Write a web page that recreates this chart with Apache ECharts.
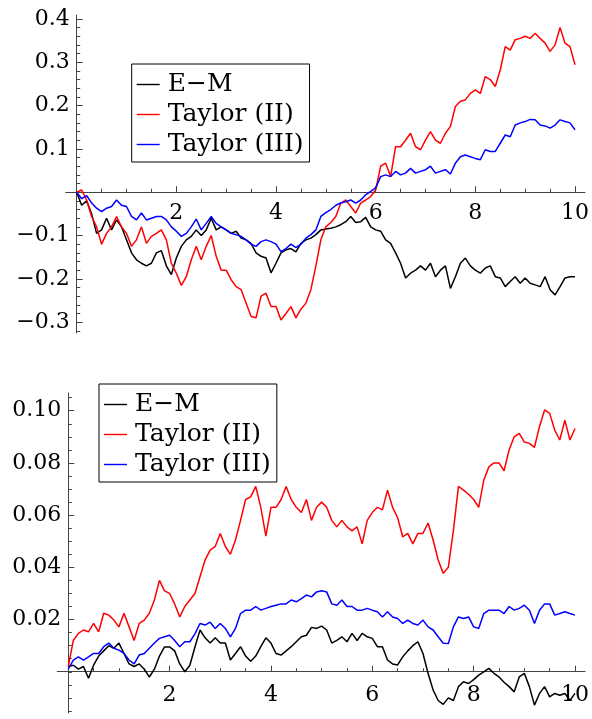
<!DOCTYPE html>
<html>
<head>
<meta charset="utf-8">
<script src="https://cdn.jsdelivr.net/npm/echarts@6/dist/echarts.min.js"></script>
<style>
  html, body { margin: 0; padding: 0; background: #fff; }
  #chart { width: 592px; height: 719px; }
</style>
</head>
<body>
<div id="chart"></div>
<script>
// sample times 0, 0.1, ... 10
var tSteps = [];
for (var i = 0; i <= 100; i++) tSteps.push(i / 10);

var names = ['E\u2212M', 'Taylor (II)', 'Taylor (III)'];
var colors = ['#000000', '#ff0000', '#0000ff'];

// top panel
var emTop = [0,-0.03,-0.02,-0.05,-0.095,-0.087,-0.06,-0.087,-0.064,-0.08,
  -0.11,-0.14,-0.156,-0.164,-0.17,-0.164,-0.14,-0.135,-0.17,-0.19,
  -0.152,-0.125,-0.11,-0.102,-0.087,-0.1,-0.087,-0.06,-0.087,-0.08,
  -0.087,-0.095,-0.09,-0.106,-0.11,-0.118,-0.14,-0.148,-0.152,-0.186,
  -0.164,-0.14,-0.133,-0.13,-0.138,-0.118,-0.11,-0.106,-0.098,-0.087,
  -0.085,-0.083,-0.08,-0.075,-0.068,-0.056,-0.07,-0.068,-0.058,-0.08,
  -0.087,-0.09,-0.11,-0.118,-0.14,-0.164,-0.198,-0.187,-0.18,-0.17,
  -0.18,-0.164,-0.195,-0.18,-0.17,-0.222,-0.195,-0.164,-0.152,-0.17,
  -0.18,-0.187,-0.175,-0.17,-0.195,-0.198,-0.218,-0.206,-0.195,-0.21,
  -0.198,-0.21,-0.214,-0.218,-0.195,-0.225,-0.237,-0.218,-0.198,-0.195,
  -0.195];
var t2Top = [0,0.005,-0.018,-0.056,-0.08,-0.12,-0.095,-0.08,-0.056,-0.08,
  -0.095,-0.125,-0.11,-0.08,-0.118,-0.102,-0.095,-0.087,-0.11,-0.164,
  -0.187,-0.215,-0.195,-0.156,-0.125,-0.156,-0.125,-0.1,-0.148,-0.18,
  -0.18,-0.202,-0.218,-0.225,-0.256,-0.287,-0.29,-0.24,-0.233,-0.264,
  -0.264,-0.295,-0.28,-0.264,-0.29,-0.27,-0.256,-0.225,-0.17,-0.11,
  -0.08,-0.07,-0.056,-0.025,-0.018,-0.033,-0.048,-0.025,-0.018,-0.01,
  0.005,0.06,0.067,0.036,0.105,0.105,0.12,0.136,0.105,0.098,
  0.12,0.14,0.12,0.113,0.136,0.152,0.198,0.21,0.213,0.228,
  0.236,0.228,0.267,0.26,0.244,0.282,0.336,0.328,0.352,0.355,
  0.36,0.355,0.367,0.355,0.344,0.325,0.34,0.38,0.344,0.336,
  0.294];
var t3Top = [0,-0.015,-0.008,-0.025,-0.037,-0.045,-0.037,-0.033,-0.018,-0.03,
  -0.033,-0.056,-0.064,-0.048,-0.064,-0.06,-0.056,-0.056,-0.064,-0.08,
  -0.09,-0.102,-0.095,-0.08,-0.062,-0.087,-0.072,-0.056,-0.072,-0.08,
  -0.087,-0.095,-0.098,-0.102,-0.11,-0.12,-0.125,-0.114,-0.11,-0.114,
  -0.12,-0.137,-0.13,-0.12,-0.128,-0.12,-0.106,-0.098,-0.087,-0.056,
  -0.047,-0.04,-0.03,-0.025,-0.022,-0.018,-0.025,-0.018,-0.006,0.002,
  0.01,0.036,0.04,0.036,0.048,0.04,0.044,0.055,0.044,0.048,
  0.052,0.06,0.044,0.048,0.052,0.042,0.067,0.082,0.086,0.082,
  0.078,0.075,0.098,0.094,0.094,0.113,0.132,0.128,0.155,0.16,
  0.163,0.168,0.167,0.155,0.153,0.148,0.155,0.167,0.163,0.16,
  0.144];

// bottom panel
var emBot = [0.002,0.0025,0.001,0.002,-0.0025,0.0025,0.006,0.008,0.010,0.009,
  0.011,0.007,0.003,0.002,0.003,0.001,-0.002,0.001,0.006,0.0095,
  0.0095,0.008,0.003,0.0,0.0025,0.0095,0.016,0.013,0.011,0.013,
  0.011,0.011,0.0045,0.007,0.0096,0.006,0.004,0.006,0.0096,0.013,
  0.011,0.007,0.0064,0.008,0.0096,0.0115,0.0134,0.014,0.017,0.0166,
  0.0175,0.016,0.011,0.012,0.0134,0.0115,0.0147,0.012,0.0147,0.0134,
  0.0128,0.0096,0.0096,0.0045,0.003,0.0026,0.0057,0.008,0.010,0.0115,
  0.007,-0.0006,-0.007,-0.011,-0.0125,-0.01,-0.011,-0.0057,-0.0038,-0.0045,
  -0.003,-0.0013,0.0,0.0013,-0.0006,-0.002,-0.004,-0.0057,-0.0077,-0.002,
  -0.0006,-0.0057,-0.0128,-0.0083,-0.0057,-0.0096,-0.0083,-0.009,-0.0083,-0.011,
  -0.0083];
var t2Bot = [0.002,0.012,0.0147,0.016,0.0153,0.0185,0.0153,0.0224,0.0217,0.0198,
  0.0172,0.0224,0.0172,0.012,0.0185,0.0198,0.0224,0.0275,0.035,0.031,
  0.030,0.026,0.021,0.025,0.0275,0.030,0.0364,0.0428,0.0466,0.048,
  0.053,0.048,0.045,0.0505,0.058,0.066,0.067,0.071,0.063,0.052,
  0.063,0.063,0.066,0.071,0.066,0.063,0.061,0.066,0.058,0.063,
  0.065,0.063,0.058,0.0555,0.058,0.0555,0.054,0.0555,0.049,0.058,
  0.061,0.063,0.062,0.0696,0.063,0.059,0.0517,0.053,0.049,0.053,
  0.053,0.057,0.0505,0.0428,0.0377,0.040,0.054,0.071,0.0696,0.068,
  0.066,0.063,0.0734,0.0785,0.080,0.080,0.077,0.085,0.090,0.0913,
  0.088,0.0875,0.086,0.094,0.1003,0.099,0.0926,0.0888,0.0964,0.0888,
  0.0932];
var t3Bot = [0.001,0.0045,0.0057,0.0045,0.0057,0.007,0.007,0.0096,0.011,0.009,
  0.0083,0.007,0.0045,0.003,0.0064,0.007,0.009,0.011,0.0128,0.0134,
  0.014,0.012,0.0096,0.0115,0.0115,0.0145,0.0185,0.0179,0.019,0.0166,
  0.0185,0.0166,0.0134,0.0166,0.0223,0.0236,0.0236,0.025,0.0236,0.0243,
  0.025,0.0255,0.026,0.026,0.0275,0.0268,0.028,0.0294,0.0287,0.0306,
  0.031,0.0306,0.026,0.0255,0.0275,0.025,0.025,0.0236,0.0236,0.0243,
  0.0236,0.023,0.021,0.023,0.021,0.0204,0.0185,0.0198,0.0185,0.0179,
  0.0198,0.0172,0.016,0.0134,0.0109,0.0108,0.0172,0.021,0.0204,0.021,
  0.0172,0.0166,0.0223,0.0236,0.0236,0.0236,0.0223,0.025,0.0236,0.0243,
  0.0255,0.0236,0.0185,0.0236,0.026,0.026,0.0217,0.0223,0.023,0.0223,
  0.0217];

// tick labels
var xLabels = [2, 4, 6, 8, 10];
var topYLabels = [-0.3, -0.2, -0.1, 0.1, 0.2, 0.3, 0.4];
var botYLabels = [0.02, 0.04, 0.06, 0.08, 0.10];

function steps(a, b, d) {
  var out = [];
  for (var v = a; v <= b + 1e-9; v += d) out.push(Math.round(v * 10000) / 10000);
  return out;
}
var xMinor = steps(0.5, 10, 0.5);
var topYMinor = steps(-0.32, 0.40, 0.02);
var botYMinor = steps(-0.015, 0.105, 0.005);

function pairs(vals) {
  return vals.map(function (v, k) { return [tSteps[k], v]; });
}

var fontFam = 'DejaVu Serif';
var axisCol = '#444';

function minus(s) { return s.replace('-', '\u2212'); }

// axes sit where the other axis is zero: offsets move them in from the grid edge
function xPair(gi, xmin, xmax, off, margin) {
  return [{
    type: 'value', gridIndex: gi, min: xmin, max: xmax, position: 'bottom', offset: off,
    axisLine: { onZero: false, lineStyle: { color: axisCol, width: 1 } },
    axisTick: { inside: true, length: 6, customValues: xLabels, lineStyle: { color: axisCol } },
    axisLabel: { customValues: xLabels, margin: margin, color: '#000',
      fontFamily: fontFam, fontSize: 22 },
    splitLine: { show: false }
  }, {
    type: 'value', gridIndex: gi, min: xmin, max: xmax, position: 'bottom', offset: off,
    axisLine: { show: false, onZero: false },
    axisTick: { inside: true, length: 3.5, customValues: xMinor, lineStyle: { color: axisCol } },
    axisLabel: { show: false },
    splitLine: { show: false }
  }];
}

function yPair(gi, ymin, ymax, off, labels, minor, digits) {
  return [{
    type: 'value', gridIndex: gi, min: ymin, max: ymax, position: 'left', offset: off,
    axisLine: { onZero: false, lineStyle: { color: axisCol, width: 1 } },
    axisTick: { inside: true, length: 6, customValues: labels, lineStyle: { color: axisCol } },
    axisLabel: { customValues: labels, margin: 7, color: '#000',
      fontFamily: fontFam, fontSize: 22,
      formatter: function (v) { return minus(v.toFixed(digits)); } },
    splitLine: { show: false }
  }, {
    type: 'value', gridIndex: gi, min: ymin, max: ymax, position: 'left', offset: off,
    axisLine: { show: false, onZero: false },
    axisTick: { inside: true, length: 3.5, customValues: minor, lineStyle: { color: axisCol } },
    axisLabel: { show: false },
    splitLine: { show: false }
  }];
}

function legendAt(left, top) {
  return {
    left: left, top: top, orient: 'vertical',
    data: names,
    icon: 'rect', itemWidth: 23, itemHeight: 1.4, itemGap: 5,
    padding: [8, 6, 5, 5],
    borderColor: '#000', borderWidth: 1, backgroundColor: '#fff',
    textStyle: { fontFamily: fontFam, fontSize: 25, color: '#000', lineHeight: 22,
      padding: [0, 0, 0, 3] }
  };
}

var topSets = [emTop, t2Top, t3Top];
var botSets = [emBot, t2Bot, t3Bot];
var series = [];
topSets.forEach(function (d, k) {
  series.push({ name: names[k], type: 'line', xAxisIndex: 0, yAxisIndex: 0,
    data: pairs(d), showSymbol: false, symbol: 'none',
    lineStyle: { color: colors[k], width: 1.5 }, itemStyle: { color: colors[k] } });
});
botSets.forEach(function (d, k) {
  series.push({ name: names[k], type: 'line', xAxisIndex: 2, yAxisIndex: 2,
    data: pairs(d), showSymbol: false, symbol: 'none',
    lineStyle: { color: colors[k], width: 1.5 }, itemStyle: { color: colors[k] } });
});

var chart = echarts.init(document.getElementById('chart'), null, { renderer: 'canvas' });
chart.setOption({
  animation: false,
  backgroundColor: '#fff',
  grid: [
    { left: 65.7, right: 5.3, top: 15, height: 318 },
    { left: 57.3, right: 5.3, top: 393, height: 320 }
  ],
  xAxis: xPair(0, -0.22, 10.2, -140.8, 10).concat(xPair(1, -0.216, 10.2, -41.3, 13)),
  yAxis: yPair(0, -0.325, 0.409, -11, topYLabels, topYMinor, 1)
    .concat(yPair(1, -0.0158, 0.1068, -11, botYLabels, botYMinor, 2)),
  legend: [legendAt(131.7, 64), legendAt(99, 384)],
  series: series
});
</script>
</body>
</html>
